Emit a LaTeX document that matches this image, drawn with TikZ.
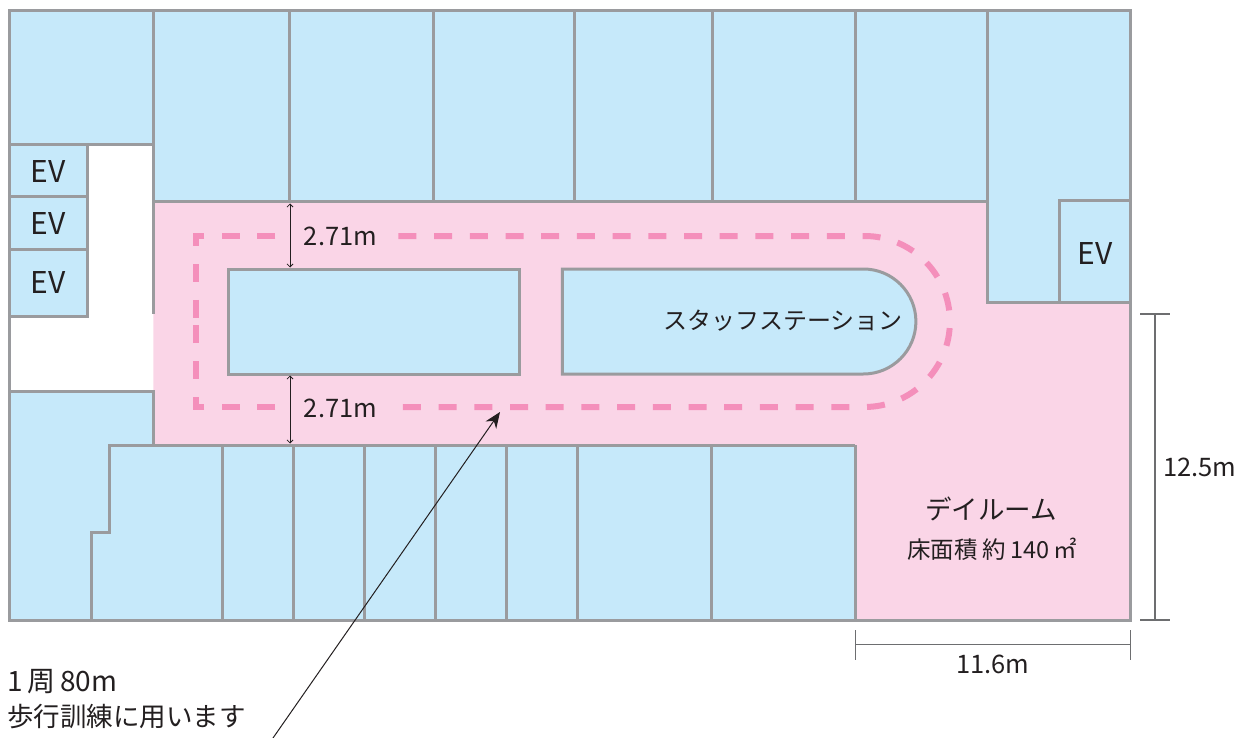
\documentclass[tikz,border=0pt]{standalone}
\usepackage{fontspec}
\setmainfont{Noto Sans CJK JP}
\usetikzlibrary{arrows.meta}
\definecolor{colorRoom}{HTML}{C6E9FA}
\definecolor{colorFloor}{HTML}{FAD5E7}
\definecolor{colorTrack}{HTML}{F48FBB}
\definecolor{colorWall}{HTML}{9A9B9E}
\definecolor{colorDim}{HTML}{6D6E70}
\definecolor{colorText}{HTML}{231F20}
\newcommand\wallWidth{3pt}
\newcommand\topRoomY{202}
\newcommand\bottomRoomY{445}
\newcommand\outerY{620}
\tikzset{
	wall/.style={draw=colorWall, line width=\wallWidth},
	room/.style={fill=colorRoom, wall},
	track/.style={draw=colorTrack, line width=6pt, dash pattern=on 18pt off 17.7pt},
	dimline/.style={draw=colorDim, line width=1.2pt},
	gapline/.style={draw=colorText, line width=0.8pt, {Straight Barb[length=3pt,width=6pt]}-{Straight Barb[length=3pt,width=6pt]}},
	leader/.style={draw=colorText, line width=1pt, -{Stealth[length=16pt,width=13pt]}},
	label/.style={text=colorText, inner sep=0pt, font=\fontsize{25.5}{30}\selectfont},
	evlabel/.style={label, font=\fontsize{30}{34}\selectfont},
	bigger/.style={label, font=\fontsize{26.5}{32}\selectfont},
	small/.style={label, font=\fontsize{23.5}{28}\selectfont}
}

\begin{document}
\begin{tikzpicture}[x=1pt, y=-1pt]
	\useasboundingbox (0,0) rectangle (1247,738);
	
	\begin{scope}[xshift=-0.6pt]
	% floor
	\fill[colorFloor] (154,\topRoomY) -- (988,\topRoomY) -- (988,302) -- (1131,302) -- (1131,\outerY)
	-- (856,\outerY) -- (856,\bottomRoomY) -- (154,\bottomRoomY) -- cycle;
	
	% rooms along the top
	\draw[room] (10,11) rectangle (154,145);
	\foreach \xa/\xb in {154/290,290/434,434/575,575/713,713/856,856/988}{
		\draw[room] (\xa,11) rectangle (\xb,\topRoomY);
	}
	\draw[room] (988,11) -- (1131,11) -- (1131,302) -- (988,302) -- cycle;
	\draw[room] (1060,201) rectangle (1131,302);
	
	% lifts on the left
	\foreach \ya/\yb in {145/197,197/249,249/316}{
		\draw[room] (10,\ya) rectangle (88,\yb);
	}
	\draw[wall] (10,316) to (10,391);
	\draw[wall] (154,145) to (154,314);
	
	% rooms along the bottom
	\fill[colorRoom] (10,391) -- (154,391) -- (154,\bottomRoomY) -- (856,\bottomRoomY) -- (856,\outerY) -- (10,\outerY) -- cycle;
	\draw[wall] (154,\bottomRoomY) -- (154,391) -- (10,391) -- (10,\outerY) -- (1131,\outerY) -- (1131,302);
	\draw[wall] (92,622) -- (92,532) -- (110,532) -- (110,\bottomRoomY) -- (856,\bottomRoomY);
	\foreach \x in {223,294,365,436,507,578,712,856}{
		\draw[wall] (\x,\bottomRoomY) to (\x,\outerY);
	}
	
	% islands
	\draw[room] (229,269) rectangle (520,374);
	\draw[room] (864,269) -- (563,269) -- (563,374) -- (864,374) arc[start angle=90, end angle=-90, radius=52.5] -- cycle;
	
	% walking track
	\draw[track] (399,236) -- (865,236) arc[start angle=-90, end angle=90, radius=85.5] -- (399,407);
	\draw[track] (276,236) -- (197,236) -- (197,322);
	\draw[track] (276,407) -- (197,407) -- (197,322);
	\end{scope}
	
	% labels
	\node[evlabel] (evA) at (48,172) {EV};
	\node[evlabel] (evB) at (48,224) {EV};
	\node[evlabel] (evC) at (48,283) {EV};
	\node[evlabel] (evD) at (1095,254) {EV};
	\node[label] (gapTop) at (340.5,236) {2.71m};
	\node[label] (gapBottom) at (340.5,408) {2.71m};
	\node[label, font=\fontsize{24}{28}\selectfont] (station) at (783,321) {スタッフステーション};
	\node[bigger] (dayroom) at (991,509) {デイルーム};
	\node[small] (area) at (992,549) {床面積 約\,140\,㎡};
	\node[label] (height) at (1200,467) {12.5m};
	\node[label] (width) at (993,664) {11.6m};
	\node[bigger, anchor=west, font=\fontsize{28}{32}\selectfont] (lap) at (7,682) {1\,周\,80m};
	\node[bigger, anchor=west] (walk) at (7,717) {歩行訓練に用います};
	
	% dimensions
	\coordinate (gapTopA) at (290,203.5);
	\coordinate (gapTopB) at (290,267.5);
	\coordinate (gapBottomA) at (290,375.5);
	\coordinate (gapBottomB) at (290,443.5);
	\draw[gapline] (gapTopA) to (gapTopB);
	\draw[gapline] (gapBottomA) to (gapBottomB);
	
	\coordinate (heightTop) at (1155,314);
	\coordinate (heightBottom) at (1155,620);
	\draw[dimline] (heightTop) to (heightBottom);
	\draw[dimline] (1140,314) to (1170,314);
	\draw[dimline] (1140,620) to (1170,620);
	
	\coordinate (widthLeft) at (855.5,644.5);
	\coordinate (widthRight) at (1130.5,644.5);
	\draw[dimline] (widthLeft) to (widthRight);
	\draw[dimline] (855.5,630) to (855.5,660);
	\draw[dimline] (1130.5,630) to (1130.5,660);
	
	% arrow to the track
	\coordinate (leaderStart) at (273,738);
	\coordinate (leaderEnd) at (500,412);
	\draw[leader] (leaderStart) to (leaderEnd);
\end{tikzpicture}
\end{document}
